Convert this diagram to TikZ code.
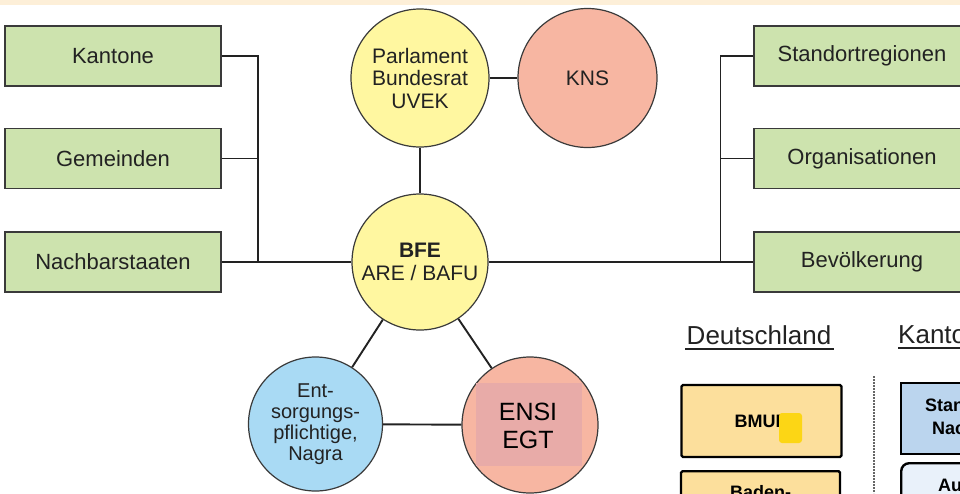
\documentclass[tikz,border=0pt]{standalone}
\usepackage{fontspec}
\setmainfont{Liberation Sans}
\definecolor{boxgreen}{HTML}{CDE3AE}
\definecolor{circyellow}{HTML}{FFF7A0}
\definecolor{circpink}{HTML}{F7B6A2}
\definecolor{circblue}{HTML}{A9DAF4}
\definecolor{ensiover}{HTML}{E8ABA8}
\definecolor{topstrip}{HTML}{FDEFD8}
\definecolor{bmufill}{HTML}{FCDF9C}
\definecolor{bmuover}{HTML}{FCD615}
\definecolor{kblue}{HTML}{BBD5EE}
\definecolor{kpale}{HTML}{E9F1FA}
\definecolor{ink}{HTML}{222222}
\definecolor{edge}{HTML}{3A3A3A}
\begin{document}
\begin{tikzpicture}[x=1pt,y=-1pt,
  greenbox/.style={draw=edge,line width=1.5pt,fill=boxgreen,minimum width=216pt,minimum height=60pt,inner sep=0pt,text=ink,font=\fontsize{22}{24}\selectfont},
  circ/.style={circle,draw=edge,line width=1.2pt,inner sep=0pt,minimum size=#1,text=ink,align=center},
  conn/.style={draw=ink,line width=1.9pt},
  debox/.style={draw=black,line width=2.4pt,rounded corners=1.5pt,inner sep=0pt,font=\fontsize{18}{20}\selectfont\bfseries},
  head/.style={text=ink,font=\fontsize{26}{28}\selectfont,inner sep=0pt}]
\useasboundingbox (0,0) rectangle (960,493);
\clip (0,0) rectangle (960,493);
\fill[white] (0,0) rectangle (960,493);
\fill[topstrip] (0,0) rectangle (960,5);

% left boxes
\node[greenbox] (kantone) at (113,56) {Kantone};
\node[greenbox] (gemeinden) at (113,158.5) {Gemeinden};
\node[greenbox] (nachbar) at (113,262) {Nachbarstaaten};
% right boxes
\node[greenbox] (stand) at (862,56) {Standortregionen};
\node[greenbox] (org) at (862,158.5) {Organisationen};
\node[greenbox] (bev) at (862,262) {Bevölkerung};

% circles
\node[circ=138pt,fill=circyellow,font=\fontsize{21}{22.5}\selectfont] (parl) at (420,78) {Parlament\\Bundesrat\\UVEK};
\node[circ=139pt,fill=circpink,font=\fontsize{21}{23}\selectfont] (kns) at (587.5,78) {KNS};
\node[circ=136pt,fill=circyellow,font=\fontsize{21}{23}\selectfont] (bfe) at (420,262) {\textbf{BFE}\\ARE / BAFU};
\node[circ=134pt,fill=circblue,font=\fontsize{20}{21}\selectfont] (ents) at (315.5,424) {Ent-\\sorgungs-\\pflichtige,\\Nagra};
\node[circ=136pt,fill=circpink] (ensi) at (530,425) {};
\fill[ensiover] (476,383) rectangle (582,466);
\node[text=black,font=\fontsize{25}{28}\selectfont,align=center,inner sep=0pt] (ensitext) at (528,426) {ENSI\\EGT};

% connectors
\coordinate (lj) at (258,262);
\coordinate (rj) at (720.5,262);
\draw[conn] (kantone.east) -| (lj);
\draw[conn] (gemeinden.east) -- (gemeinden.east -| lj);
\draw[conn] (nachbar.east) -- (bfe);
\draw[conn] (stand.west) -| (rj);
\draw[conn] (org.west) -- (org.west -| rj);
\draw[conn] (bfe) -- (bev.west);
\draw[conn] (parl) -- (kns);
\draw[conn] (parl) -- (bfe);
\draw[conn] (bfe) -- (ents);
\draw[conn] (bfe) -- (ensi);
\draw[conn] (ents) -- (ensi);

% Deutschland / Kantone panel
\node[head] (de) at (759,335) {Deutschland};
\draw[ink,line width=1.4pt] (685,349) -- (834,349);
\node[head,anchor=west] (kt) at (898,335) {Kantone};
\draw[ink,line width=1.4pt] (898,348) -- (960,348);

\node[debox,fill=bmufill,minimum width=160pt,minimum height=72pt] (bmu) at (761.5,421) {BMUB};
\fill[bmuover,rounded corners=3pt] (779,413) rectangle (802,443);
\node[debox,fill=bmufill,minimum width=159pt,minimum height=60pt,anchor=north] (baden) at (760.5,470) {};
\node[font=\fontsize{18}{20}\selectfont\bfseries,inner sep=0pt,anchor=north] (badentext) at (760.5,485) {Baden-};

\draw[gray!80!black,line width=2pt,dash pattern=on 2pt off 1pt] (873.5,376) -- (873.5,493);

\node[draw=black,line width=2.4pt,fill=kblue,anchor=north west,minimum width=120pt,minimum height=71pt,inner sep=0pt] (skbox) at (900,382) {};
\node[font=\fontsize{18}{20}\selectfont\bfseries,inner sep=0pt,anchor=west] (sk1) at (925,405) {Standortkanton};
\node[font=\fontsize{18}{20}\selectfont\bfseries,inner sep=0pt,anchor=west] (sk2) at (932,428) {Nachbarkantone};
\node[draw=black,line width=2.4pt,fill=kpale,rounded corners=8pt,anchor=north west,minimum width=120pt,minimum height=60pt,inner sep=0pt] (ausbox) at (900,462) {};
\node[font=\fontsize{18}{20}\selectfont\bfseries,inner sep=0pt,anchor=west] (aus) at (938,485) {Ausschuss};
\end{tikzpicture}
\end{document}
